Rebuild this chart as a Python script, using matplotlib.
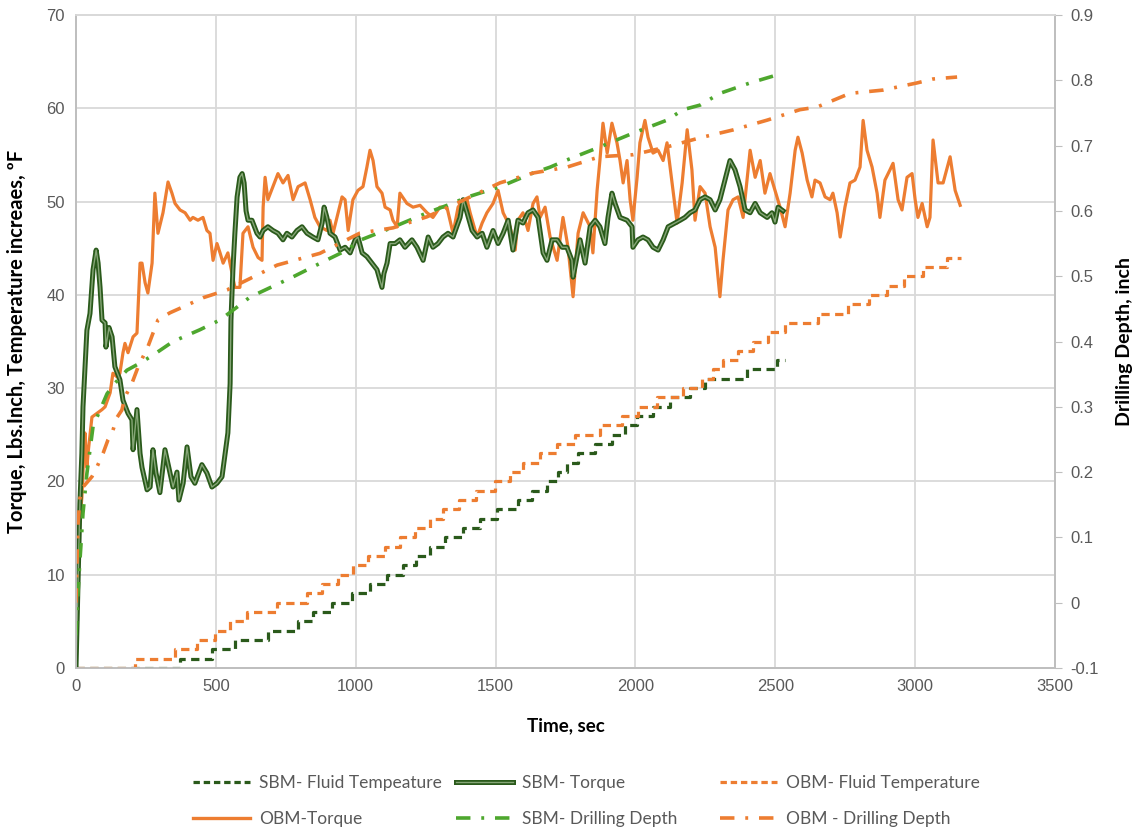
import matplotlib
matplotlib.use("Agg")
import matplotlib.pyplot as plt
from matplotlib.lines import Line2D
from matplotlib.legend_handler import HandlerTuple

# ---- data ----
# SBM torque (Lbs.Inch)
sbm_torque_t = [0, 7, 14, 21, 25, 39, 50, 61, 72, 79,
                86, 93, 104, 107, 118, 129, 139, 157, 168, 186,
                200, 204, 218, 229, 236, 254, 265, 275, 286, 300,
                318, 336, 347, 361, 368, 383, 397, 411, 425, 450,
                468, 486, 504, 522, 533, 543, 551, 554, 561, 568,
                576, 586, 594, 601, 608, 615, 629, 647, 658, 669,
                686, 704, 722, 740, 754, 772, 790, 808, 826, 847,
                865, 880, 887, 897, 908, 926, 944, 962, 980, 998,
                1008, 1023, 1040, 1058, 1076, 1094, 1101, 1112, 1123, 1141,
                1158, 1176, 1201, 1219, 1241, 1259, 1276, 1294, 1312, 1330,
                1348, 1373, 1384, 1398, 1416, 1434, 1452, 1469, 1491, 1509,
                1527, 1545, 1562, 1580, 1598, 1616, 1634, 1652, 1670, 1684,
                1702, 1720, 1738, 1755, 1773, 1777, 1791, 1802, 1820, 1838,
                1856, 1873, 1891, 1902, 1916, 1927, 1945, 1970, 1988, 1991,
                2009, 2027, 2045, 2063, 2081, 2099, 2117, 2142, 2160, 2177,
                2195, 2213, 2231, 2249, 2267, 2285, 2302, 2320, 2338, 2356,
                2374, 2392, 2410, 2428, 2446, 2471, 2488, 2499, 2510, 2528]
sbm_torque = [0, 8.7, 17.7, 23, 28, 36.2, 38, 42.7, 44.8, 43.4,
              40.8, 37.3, 37, 34.4, 36.5, 35.5, 32.3, 30.9, 28.7, 27.3,
              26.6, 23.4, 27.7, 23, 21.5, 19.1, 19.4, 23.4, 20.9, 18.8,
              23.4, 20.9, 19.4, 21, 18, 19.8, 23.7, 20.5, 19.8, 21.8,
              20.9, 19.4, 19.8, 20.5, 23, 25.2, 30.5, 37.3, 42.7, 46.6,
              50.5, 52.6, 53, 52, 49, 48, 48, 46.6, 46.2, 46.9,
              47.3, 46.9, 46.6, 45.9, 46.6, 46.2, 46.9, 47.3, 46.6, 46.2,
              45.9, 47.7, 49.4, 48.3, 46.6, 46.2, 44.8, 45.1, 44.5, 45.9,
              46.2, 44.5, 44.1, 43.4, 42.7, 40.8, 42.3, 43.4, 45.5, 45.5,
              45.9, 45.1, 45.9, 45.1, 43.7, 46.2, 45.1, 45.5, 46.2, 46.6,
              46.2, 48.3, 50.2, 48.8, 46.9, 46.2, 46.6, 45.1, 46.9, 45.5,
              46.6, 48, 44.8, 48, 47.7, 48.8, 49.1, 48.3, 44.5, 43.7,
              45.9, 45.9, 45.1, 45.1, 43.7, 41.9, 44.1, 45.9, 43.4, 47.3,
              48, 47.3, 45.5, 48.3, 50.9, 49.8, 48.3, 48, 47.3, 45.1,
              45.9, 46.2, 45.9, 45.1, 44.8, 45.9, 47.3, 47.7, 48, 48.3,
              48.8, 49.1, 50.2, 50.5, 50.2, 49.1, 50.2, 52.3, 54.4, 53.4,
              51.6, 49.1, 48.8, 49.8, 48.8, 48.3, 48.8, 47.8, 49.4, 49]

# OBM torque (Lbs.Inch)
obm_torque_t = [0, 7, 14, 21, 29, 32, 39, 43, 57, 75,
                93, 104, 122, 132, 147, 157, 168, 175, 186, 204,
                218, 229, 236, 247, 257, 272, 282, 293, 311, 329,
                343, 354, 372, 390, 408, 418, 436, 454, 468, 479,
                490, 504, 515, 526, 543, 558, 568, 586, 597, 615,
                633, 651, 665, 669, 676, 686, 704, 722, 740, 758,
                776, 794, 819, 837, 854, 872, 897, 908, 919, 937,
                951, 962, 973, 990, 1008, 1026, 1040, 1051, 1062, 1076,
                1094, 1105, 1123, 1133, 1148, 1158, 1183, 1205, 1230, 1255,
                1276, 1301, 1326, 1348, 1366, 1384, 1398, 1409, 1434, 1452,
                1469, 1491, 1509, 1527, 1552, 1570, 1580, 1598, 1616, 1634,
                1648, 1659, 1677, 1695, 1720, 1741, 1759, 1777, 1795, 1813,
                1838, 1848, 1863, 1873, 1884, 1899, 1916, 1934, 1945, 1956,
                1970, 1981, 1991, 2006, 2016, 2034, 2045, 2063, 2081, 2099,
                2113, 2131, 2149, 2167, 2185, 2202, 2213, 2231, 2249, 2267,
                2285, 2302, 2313, 2331, 2349, 2367, 2385, 2410, 2428, 2446,
                2463, 2481, 2499, 2517, 2535, 2553, 2571, 2581, 2596, 2614,
                2631, 2642, 2660, 2678, 2696, 2706, 2721, 2732, 2749, 2767,
                2785, 2803, 2814, 2828, 2846, 2864, 2874, 2892, 2910, 2921,
                2939, 2953, 2971, 2989, 3000, 3010, 3025, 3043, 3053, 3064,
                3082, 3100, 3125, 3143, 3161]
obm_torque = [0, 12.3, 15.9, 18.3, 23.7, 25.2, 21.5, 23, 26.9, 27.3,
              27.7, 28, 29.5, 31.6, 31.2, 31.6, 33.8, 34.8, 33.8, 35.5,
              35.9, 43.4, 43.4, 41.3, 40.2, 43.4, 50.9, 46.6, 48.8, 52.1,
              50.9, 49.8, 49.1, 48.8, 48, 48.3, 48, 48.3, 46.9, 46.6,
              43.7, 45.5, 44.5, 43.4, 44.5, 42.3, 40.8, 40.8, 46.6, 47.3,
              45.1, 44, 43.7, 49.4, 52.6, 50.2, 51.6, 53, 52, 52.8,
              50.2, 51.6, 52, 50.2, 48.3, 47.3, 46.9, 48, 46.6, 48.8,
              50.5, 50.2, 46.9, 50.2, 51.2, 51.6, 53.7, 55.5, 54.4, 51.6,
              50.9, 49.4, 49.1, 48, 47.3, 50.9, 49.8, 49.4, 49.6, 48.8,
              48.3, 49.4, 49.4, 46.6, 49.4, 50.2, 50.2, 48.8, 46.2, 47.7,
              48.8, 49.8, 51.2, 48.8, 47.3, 44.8, 48, 48.8, 46.9, 49.8,
              50.5, 48.3, 49.4, 46.2, 43.7, 48.3, 45.1, 39.8, 46.6, 48.8,
              47.3, 44.5, 51.2, 54.4, 58.4, 55.2, 58.4, 56.3, 54.4, 52,
              54.4, 50.2, 48, 52.6, 56.3, 58.7, 56.9, 55.2, 55.5, 54.4,
              56.3, 52, 47.7, 52, 57.7, 53.4, 48, 51.6, 50.9, 47.3,
              45.1, 39.8, 43.7, 49.1, 50.2, 50.5, 48.3, 55.5, 52.6, 54.4,
              50.9, 53, 51.2, 49.4, 47.3, 50.9, 55.5, 56.9, 55.2, 52.3,
              50.5, 52.3, 52, 50.5, 50.2, 50.9, 48.8, 46.2, 49.4, 52,
              52.3, 53.7, 58.7, 55.5, 53.7, 50.9, 48.3, 52.3, 53.4, 54.1,
              50.2, 49.1, 52.6, 53, 50.2, 48.3, 49.8, 47.3, 48.3, 56.6,
              52, 52, 54.8, 51.2, 49.6]

# fluid temperature increase (step series, ºF)
sbm_temp_t = [0, 372, 486, 568, 686, 793, 847, 915, 986, 1051,
              1111, 1169, 1215, 1265, 1320, 1383, 1444, 1505, 1580, 1630,
              1683, 1723, 1755, 1794, 1855, 1916, 1962, 2005, 2062, 2123,
              2194, 2248, 2398, 2505, 2534]
sbm_temp = [0, 1, 2, 3, 4, 5, 6, 7, 8, 9,
            10, 11, 12, 13, 14, 15, 16, 17, 18, 19,
            20, 21, 22, 23, 24, 25, 26, 27, 28, 29,
            30, 31, 32, 33, 33]
obm_temp_t = [0, 211, 354, 432, 497, 550, 611, 718, 825, 879,
              936, 990, 1044, 1104, 1158, 1212, 1265, 1312, 1369, 1430,
              1498, 1551, 1598, 1658, 1719, 1783, 1873, 1951, 2009, 2076,
              2169, 2237, 2277, 2312, 2366, 2420, 2474, 2535, 2653, 2760,
              2835, 2899, 2960, 3028, 3114, 3163]
obm_temp = [0, 1, 2, 3, 4, 5, 6, 7, 8, 9,
            10, 11, 12, 13, 14, 15, 16, 17, 18, 19,
            20, 21, 22, 23, 24, 25, 26, 27, 28, 29,
            30, 31, 32, 33, 34, 35, 36, 37, 38, 39,
            40, 41, 42, 43, 44, 44]

# drilling depth (inch, right axis)
sbm_depth_t = [0, 4, 14, 25, 39, 50, 61, 75, 111, 139,
               182, 229, 275, 347, 443, 515, 586, 622, 776, 897,
               969, 1015, 1133, 1255, 1348, 1398, 1516, 1634, 1695, 1755,
               1873, 1991, 2113, 2170, 2231, 2302, 2410, 2528]
sbm_depth = [-0.05, -0.007, 0.064, 0.137, 0.198, 0.234, 0.27, 0.284, 0.32, 0.336,
             0.356, 0.367, 0.379, 0.4, 0.418, 0.433, 0.456, 0.468, 0.499, 0.525,
             0.54, 0.555, 0.575, 0.597, 0.612, 0.621, 0.637, 0.658, 0.667, 0.678,
             0.698, 0.719, 0.739, 0.755, 0.762, 0.78, 0.796, 0.811]
obm_depth_t = [0, 7, 14, 21, 57, 75, 97, 114, 129, 147,
               164, 175, 200, 222, 257, 293, 336, 383, 454, 540,
               719, 872, 1015, 1133, 1255, 1373, 1516, 1634, 1755, 1873,
               1991, 2113, 2231, 2349, 2471, 2588, 2649, 2767, 2885, 3007,
               3064, 3150]
obm_depth = [0.0, 0.12, 0.16, 0.175, 0.193, 0.208, 0.229, 0.249, 0.26, 0.284,
             0.295, 0.315, 0.336, 0.361, 0.392, 0.433, 0.444, 0.453, 0.467, 0.479,
             0.517, 0.535, 0.566, 0.574, 0.591, 0.614, 0.643, 0.658, 0.667, 0.683,
             0.686, 0.698, 0.712, 0.724, 0.739, 0.755, 0.759, 0.78, 0.785, 0.796,
             0.802, 0.805]

x_ticks = [0, 500, 1000, 1500, 2000, 2500, 3000, 3500]
y_ticks = [0, 10, 20, 30, 40, 50, 60, 70]
y2_ticks = [-0.1, 0, 0.1, 0.2, 0.3, 0.4, 0.5, 0.6, 0.7, 0.8, 0.9]
y2_labels = ["-0.1", "0", "0.1", "0.2", "0.3", "0.4", "0.5", "0.6", "0.7", "0.8", "0.9"]

# ---- styles ----
orange = "#ED7D31"
green = "#4EA72E"
dark_green = "#2A5A1B"
inner_green = "#86A677"
grey_txt = "#595959"
label_font = ["Lato", "DejaVu Sans"]
tick_font = ["Liberation Sans", "DejaVu Sans"]
dash = (2.6, 1.7)
dashdot = (4, 3, 0.8, 3)

W, H = 1139, 835
fig = plt.figure(figsize=(W / 100, H / 100), dpi=100)
ax = fig.add_axes([76 / W, 1 - 668 / H, (1055 - 76) / W, (668 - 15) / H])
ax2 = ax.twinx()

# torque + temperature on left axis
ax.plot(sbm_temp_t, sbm_temp, drawstyle="steps-post", color=dark_green, lw=2.3,
        dashes=dash, zorder=3)
ax.plot(obm_temp_t, obm_temp, drawstyle="steps-post", color=orange, lw=2.3,
        dashes=dash, zorder=3)
ax.plot(obm_torque_t, obm_torque, color=orange, lw=2.3, zorder=4)
ax.plot(sbm_torque_t, sbm_torque, color=dark_green, lw=3.6, zorder=5,
        solid_joinstyle="round")
ax.plot(sbm_torque_t, sbm_torque, color=inner_green, lw=1.0, zorder=6,
        solid_joinstyle="round")

# drilling depth on right axis
ax2.plot(sbm_depth_t, sbm_depth, color=green, lw=2.6, dashes=dashdot)
ax2.plot(obm_depth_t, obm_depth, color=orange, lw=2.6, dashes=dashdot)

ax.set_xlim(0, 3500)
ax.set_ylim(0, 70)
ax2.set_ylim(-0.1, 0.9)
ax.set_xticks(x_ticks)
ax.set_yticks(y_ticks)
ax2.set_yticks(y2_ticks)
ax2.set_yticklabels(y2_labels)

ax.grid(True, color="#D9D9D9", lw=1.3)
ax.set_axisbelow(True)
for a in (ax, ax2):
    for s in a.spines.values():
        s.set_color("#BFBFBF")
        s.set_linewidth(1.3)
    a.spines["top"].set_color("#D9D9D9")

ax.tick_params(axis="both", length=0, labelsize=12, labelcolor=grey_txt, pad=8)
ax2.tick_params(axis="y", length=5, color="#BFBFBF", labelsize=12,
                labelcolor=grey_txt, pad=6)
for lab in ax.get_xticklabels() + ax.get_yticklabels() + ax2.get_yticklabels():
    lab.set_family(tick_font)

ax.set_xlabel("Time, sec", fontsize=13.5, fontweight="bold", family=label_font)
ax.xaxis.set_label_coords(0.5, -0.076)
ax.set_ylabel("Torque, Lbs.Inch, Temperature increaes, ºF", fontsize=14.5,
              fontweight="bold", family=label_font)
ax.yaxis.set_label_coords(-0.050, 0.5)
ax2.set_ylabel("Drilling Depth, inch", fontsize=14, fontweight="bold",
               family=label_font, rotation=90)
ax2.yaxis.set_label_coords(1.062, 0.5)

# ---- legend: three columns placed individually ----
h_sbm_temp = Line2D([], [], color=dark_green, lw=2.3, dashes=(2.0, 1.2))
h_sbm_torque = (Line2D([], [], color=dark_green, lw=3.6),
                Line2D([], [], color=inner_green, lw=1.0))
h_obm_temp = Line2D([], [], color=orange, lw=2.3, dashes=(2.0, 1.2))
h_obm_torque = Line2D([], [], color=orange, lw=2.4)
h_sbm_depth = Line2D([], [], color=green, lw=2.6, dashes=(4, 3, 0.8, 3))
h_obm_depth = Line2D([], [], color=orange, lw=2.6, dashes=(4, 3, 0.8, 3))

cols = [
    (193, [h_sbm_temp, h_obm_torque], ["SBM- Fluid Tempeature", "OBM-Torque"]),
    (456, [h_sbm_torque, h_sbm_depth], ["SBM- Torque", "SBM- Drilling Depth"]),
    (720, [h_obm_temp, h_obm_depth], ["OBM- Fluid Temperature", "OBM - Drilling Depth"]),
]
for x0, hs, labs in cols:
    fig.legend(hs, labs, loc="upper left", bbox_to_anchor=(x0 / W, 1 - 775 / H),
               frameon=False, borderpad=0, borderaxespad=0, handlelength=3.3,
               handletextpad=0.5, labelspacing=1.15,
               prop={"family": label_font, "size": 12.5}, labelcolor=grey_txt,
               handler_map={tuple: HandlerTuple(ndivide=1)})

fig.savefig("out.png", dpi=100)
